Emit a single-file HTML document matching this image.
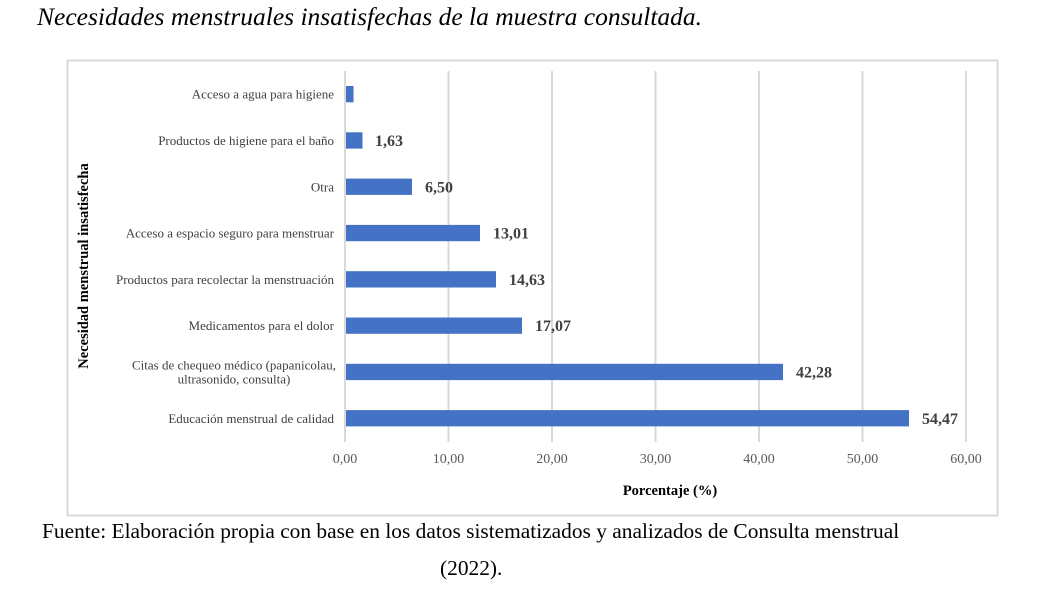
<!DOCTYPE html>
<html><head><meta charset="utf-8"><style>
html,body{margin:0;padding:0;background:#fff;}
svg{display:block;}
text{font-family:"Liberation Serif","Times New Roman",serif;}
</style></head><body>
<svg width="1046" height="589" viewBox="0 0 1046 589" xmlns="http://www.w3.org/2000/svg">
<text x="37" y="25" font-size="25.5" font-style="italic" fill="#000">Necesidades menstruales insatisfechas de la muestra consultada.</text>
<rect x="67.5" y="60.5" width="930" height="455" fill="#fff" stroke="#d9d9d9" stroke-width="2"/>
<g stroke="#d9d9d9" stroke-width="2">
<line x1="345" y1="71" x2="345" y2="442"/>
<line x1="448.5" y1="71" x2="448.5" y2="442"/>
<line x1="552" y1="71" x2="552" y2="442"/>
<line x1="655.5" y1="71" x2="655.5" y2="442"/>
<line x1="759" y1="71" x2="759" y2="442"/>
<line x1="862.5" y1="71" x2="862.5" y2="442"/>
<line x1="966" y1="71" x2="966" y2="442"/>
</g>
<g fill="#4472c4">
<rect x="346" y="86" width="7.5" height="16.3"/>
<rect x="346" y="132.3" width="16.5" height="16.3"/>
<rect x="346" y="178.6" width="66" height="16.3"/>
<rect x="346" y="224.9" width="134" height="16.3"/>
<rect x="346" y="271.2" width="150" height="16.3"/>
<rect x="346" y="317.5" width="176" height="16.3"/>
<rect x="346" y="363.8" width="437" height="16.3"/>
<rect x="346" y="410.1" width="563" height="16.3"/>
</g>
<g font-size="16" font-weight="bold" fill="#404040">
<text x="375" y="146">1,63</text>
<text x="425" y="192.5">6,50</text>
<text x="493" y="238.5">13,01</text>
<text x="509" y="285">14,63</text>
<text x="535" y="331">17,07</text>
<text x="796" y="377.5">42,28</text>
<text x="922" y="424">54,47</text>
</g>
<g font-size="13" fill="#404040" text-anchor="end">
<text x="334" y="98.7">Acceso a agua para higiene</text>
<text x="334" y="145">Productos de higiene para el baño</text>
<text x="334" y="191.3">Otra</text>
<text x="334" y="237.6">Acceso a espacio seguro para menstruar</text>
<text x="334" y="283.9">Productos para recolectar la menstruación</text>
<text x="334" y="330.2">Medicamentos para el dolor</text>
<text x="334" y="422.8">Educación menstrual de calidad</text>
</g>
<g font-size="13" fill="#404040" text-anchor="middle">
<text x="234" y="369.5">Citas de chequeo médico (papanicolau,</text>
<text x="234" y="383.5">ultrasonido, consulta)</text>
</g>
<g font-size="14" fill="#595959" text-anchor="middle">
<text x="345" y="463">0,00</text>
<text x="448.5" y="463">10,00</text>
<text x="552" y="463">20,00</text>
<text x="655.5" y="463">30,00</text>
<text x="759" y="463">40,00</text>
<text x="862.5" y="463">50,00</text>
<text x="966" y="463">60,00</text>
</g>
<text x="670" y="495" font-size="14.5" font-weight="bold" fill="#000" text-anchor="middle">Porcentaje (%)</text>
<text transform="translate(88,266) rotate(-90)" font-size="14.5" font-weight="bold" fill="#000" text-anchor="middle">Necesidad menstrual insatisfecha</text>
<text x="42" y="538" font-size="21.4" fill="#000">Fuente: Elaboración propia con base en los datos sistematizados y analizados de Consulta menstrual</text>
<text x="440" y="575" font-size="21.4" fill="#000">(2022).</text>
</svg>
</body></html>
